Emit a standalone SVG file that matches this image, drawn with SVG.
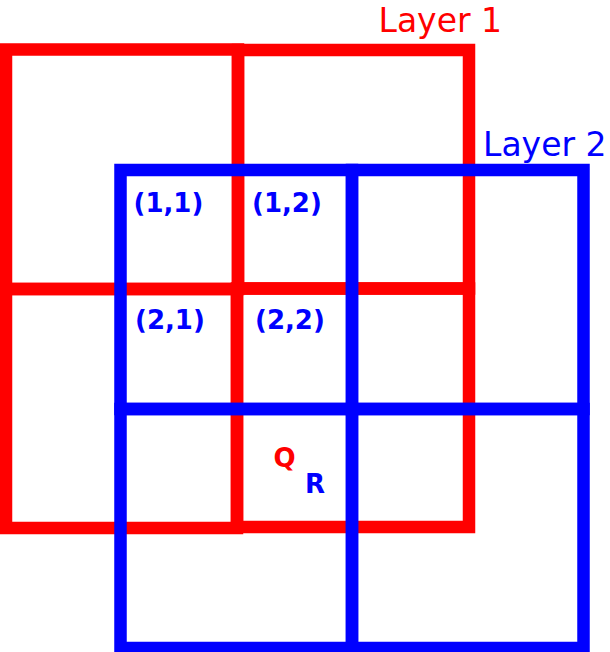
<svg xmlns="http://www.w3.org/2000/svg" width="610" height="652" viewBox="0 0 610 652">
<style>
.r{fill:none;stroke:#ff0000;stroke-width:12.5}
.b{fill:none;stroke:#0000ff;stroke-width:12.5}
.lbl{font-family:"DejaVu Sans",sans-serif;font-size:33px}
.cell{font-family:"DejaVu Sans",sans-serif;font-size:26px;font-weight:bold;fill:#0000ff}
</style>
<rect width="610" height="652" fill="#ffffff"/>
<g id="layer1">
<rect class="r" x="6" y="49.5" width="232" height="239.5"/>
<rect class="r" x="238" y="50" width="231" height="238.5"/>
<rect class="r" x="6" y="289" width="231" height="239"/>
<rect class="r" x="237" y="288.5" width="232" height="238.5"/>
</g>
<g id="layer2">
<rect class="b" x="120.5" y="170" width="231.5" height="239"/>
<rect class="b" x="352" y="170" width="231.5" height="239"/>
<rect class="b" x="120.5" y="409" width="231.5" height="239"/>
<rect class="b" x="352" y="409" width="231.5" height="239"/>
</g>
<g id="labels">
<text class="lbl" x="378.5" y="31.5" fill="#ff0000">Layer 1</text>
<text class="lbl" x="483" y="155.5" fill="#0000ff">Layer 2</text>
<text class="cell" x="133.5" y="211.5">(1,1)</text>
<text class="cell" x="252" y="211.5">(1,2)</text>
<text class="cell" x="135" y="329">(2,1)</text>
<text class="cell" x="255" y="329">(2,2)</text>
<text class="cell" x="273.5" y="466.5" style="fill:#ff0000">Q</text>
<text class="cell" x="305" y="492.5">R</text>
</g>
</svg>
